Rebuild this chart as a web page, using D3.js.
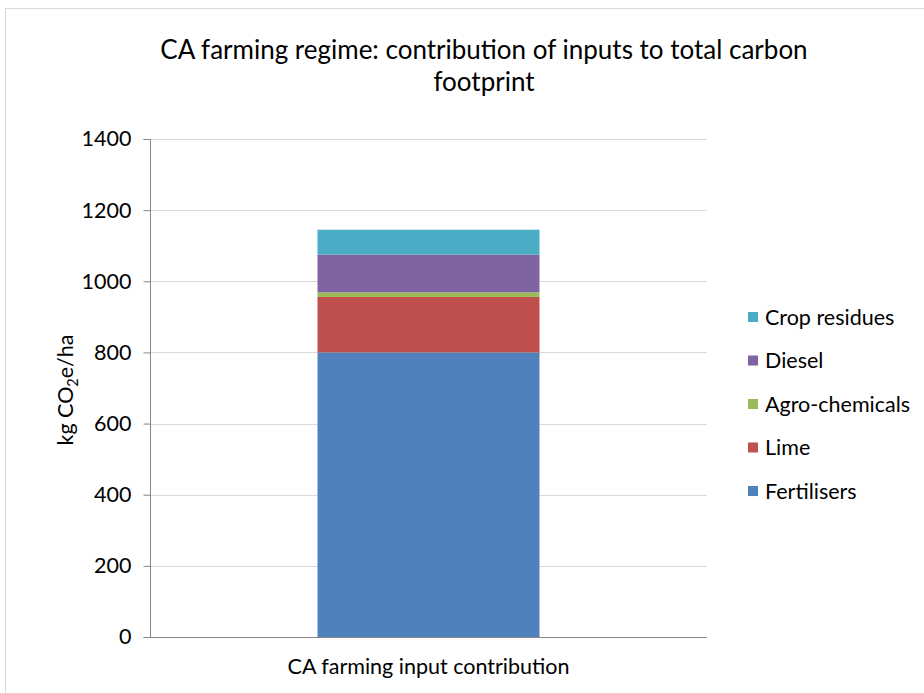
<!DOCTYPE html>
<html><head><meta charset="utf-8">
<script src="https://cdn.jsdelivr.net/npm/d3@7"></script>
<style>body{margin:0;background:#fff;} text{font-family:Lato,"Open Sans",sans-serif;fill:#000;}</style>
</head><body>
<svg id="c" width="924" height="693"></svg>
<script>
const categories = ["CA farming input contribution"];
const seriesNames = ["Fertilisers","Lime","Agro-chemicals","Diesel","Crop residues"];
const seriesValues = [[800],[156],[13],[106],[70]];
const seriesColors = ["#4f81bd","#c0504d","#9bbb59","#8064a2","#4bacc6"];
const yTicks = [0,200,400,600,800,1000,1200,1400];
const titleLines = ["CA farming regime: contribution of inputs to total carbon","footprint"];

const svg = d3.select("#c");
svg.append("rect").attr("x",5.5).attr("y",8.5).attr("width",930).attr("height",700)
  .attr("fill","#fff").attr("stroke","#d9d9d9").attr("stroke-width",1);

const m = {left:150, right:707, top:139, bottom:637};
const x = d3.scaleBand().domain(categories).range([m.left,m.right]).paddingInner(0.6).paddingOuter(0.3);
const y = d3.scaleLinear().domain([0,1400]).range([m.bottom,m.top]);

// gridlines
svg.append("g").selectAll("line").data(yTicks.filter(d=>d>0)).join("line")
  .attr("x1",m.left).attr("x2",m.right).attr("y1",d=>Math.round(y(d))+0.5).attr("y2",d=>Math.round(y(d))+0.5)
  .attr("stroke","#d9d9d9");

// stacked data
const rows = categories.map((c,i)=>{const o={cat:c}; seriesNames.forEach((s,j)=>o[s]=seriesValues[j][i]); return o;});
const stack = d3.stack().keys(seriesNames)(rows);
const bw = 222;
svg.append("g").selectAll("g").data(stack).join("g").attr("fill",(d,i)=>seriesColors[i])
  .selectAll("rect").data(d=>d).join("rect")
  .attr("x",d=>x(d.data.cat)+x.bandwidth()/2-bw/2).attr("width",bw)
  .attr("y",d=>y(d[1])).attr("height",d=>y(d[0])-y(d[1]));

// y axis
const ya = svg.append("g").attr("transform",`translate(${m.left+0.5},0)`)
  .call(d3.axisLeft(y).tickValues(yTicks).tickSize(7).tickPadding(12).tickFormat(d3.format("d")));
ya.select(".domain").attr("stroke","#868686").attr("d",`M-7,${m.top+0.5}H0V${m.bottom+0.5}H-7`);
ya.selectAll(".tick line").attr("stroke","#868686");
ya.selectAll(".tick text").attr("font-size",21.5).attr("font-family","Lato").attr("fill","#000");

// x axis
const xa = svg.append("g").attr("transform",`translate(0,${m.bottom+0.5})`);
xa.append("line").attr("x1",m.left).attr("x2",m.right).attr("stroke","#868686");
xa.selectAll("text").data(categories).join("text")
  .attr("x",d=>x(d)+x.bandwidth()/2).attr("y",36).attr("text-anchor","middle")
  .attr("font-size",21.5).text(d=>d);

// y axis title
const yt = svg.append("text").attr("transform","translate(73,390) rotate(-90)").attr("text-anchor","middle").attr("font-size",21.5);
yt.append("tspan").text("kg CO");
yt.append("tspan").attr("font-size",14.5).attr("dy",5).text("2");
yt.append("tspan").attr("dy",-5).text("e/ha");

// title
svg.selectAll("text.title").data(titleLines).join("text").attr("class","title")
  .attr("x",484).attr("y",(d,i)=>59+i*32).attr("text-anchor","middle").attr("font-size",26).text(d=>d);

// legend
const leg = svg.append("g");
const legOrder = seriesNames.map((s,i)=>({s,c:seriesColors[i]})).reverse();
legOrder.forEach((d,i)=>{
  const yy = 317 + i*43.5;
  leg.append("rect").attr("x",748).attr("y",yy-5).attr("width",10).attr("height",10).attr("fill",d.c);
  leg.append("text").attr("x",765).attr("y",yy+7.5).attr("font-size",21.5).text(d.s);
});
</script>
</body></html>
